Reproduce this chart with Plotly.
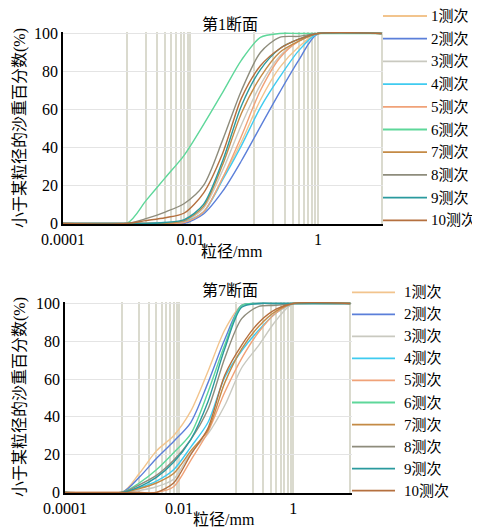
import plotly.graph_objects as go

# particle sizes (mm)
sizes = [0.0001, 0.001, 0.002, 0.004, 0.008, 0.016, 0.032, 0.063, 0.125, 0.25, 0.5, 1, 10]

run_names = ["1测次", "2测次", "3测次", "4测次", "5测次", "6测次", "7测次", "8测次", "9测次", "10测次"]
run_colors = ["#F2C48D", "#5B7FD9", "#C9C9C0", "#3FCBF0", "#F0A278",
              "#5ED79A", "#C48A45", "#8E8C7C", "#2A9A9E", "#B5703F"]

# Section 1: percent finer (%)
s1_r1 = [0, 0, 0, 0, 0.5, 6, 24, 43, 65, 82, 93, 100, 100]
s1_r2 = [0, 0, 0, 0, 0, 5, 17, 33, 51, 69, 86, 100, 100]
s1_r3 = [0, 0, 0, 0, 1, 8, 28, 52, 73, 88, 96, 100, 100]
s1_r4 = [0, 0, 0, 0.5, 1, 6, 23, 41, 61, 77, 91, 100, 100]
s1_r5 = [0, 0, 0, 0, 0.5, 6, 24, 46, 70, 87, 96, 100, 100]
s1_r6 = [0, 0, 12, 24, 36, 52, 69, 86, 98, 100, 100, 100, 100]
s1_r7 = [0, 0, 0, 0, 1.5, 9, 31, 58, 77, 90, 96, 100, 100]
s1_r8 = [0, 0, 2.5, 6, 10.5, 20, 44, 70, 90, 98, 98.5, 100, 100]
s1_r9 = [0, 0, 0, 0.5, 2, 10, 33, 62, 81, 92, 97, 100, 100]
s1_r10 = [0, 0, 1.5, 3, 5.5, 16, 37, 66, 83, 92, 97, 100, 100]

# Section 7: percent finer (%)
s7_r1 = [0, 0, 10, 22, 30, 43, 64, 86, 99, 100, 100, 100, 100]
s7_r2 = [0, 0, 8, 18, 27, 37, 58, 81, 99, 100, 100, 100, 100]
s7_r3 = [0, 0, 1, 3, 7, 21, 31, 46, 66, 78, 91, 100, 100]
s7_r4 = [0, 0, 2.5, 6, 12, 24, 37, 61, 75, 86, 95, 100, 100]
s7_r5 = [0, 0, 0, 0, 3, 17, 32, 53, 71, 85, 95, 100, 100]
s7_r6 = [0, 0, 5, 12, 21, 31, 53, 78, 99, 100, 100, 100, 100]
s7_r7 = [0, 0, 2, 5, 10, 22, 33, 58, 76, 88, 96, 100, 100]
s7_r8 = [0, 0, 4, 9, 17, 28, 44, 71, 92, 98.5, 99, 100, 100]
s7_r9 = [0, 0, 3, 8, 16, 28, 48, 76, 98, 100, 100, 100, 100]
s7_r10 = [0, 0, 0, 0, 5, 20, 34, 62, 78, 90, 97, 100, 100]

sec1 = [s1_r1, s1_r2, s1_r3, s1_r4, s1_r5, s1_r6, s1_r7, s1_r8, s1_r9, s1_r10]
sec7 = [s7_r1, s7_r2, s7_r3, s7_r4, s7_r5, s7_r6, s7_r7, s7_r8, s7_r9, s7_r10]

x_tickvals = [0.0001, 0.01, 1]
x_ticktext = ["0.0001", "0.01", "1"]
grid_sizes = [k * 0.001 for k in range(1, 11)] + [k * 0.1 for k in range(1, 11)] + [10]

FONT = "'Liberation Serif', 'Noto Sans CJK SC', serif"
# page body adds an 8px offset; the figure is sized to fit the 480x528 window
OFF = 8
W, H = 480 - OFF, 528 - OFF


def px_x(p):
    return (p - OFF) / W


def px_y(p):
    return 1 - (p - OFF) / H


fig = go.Figure()
for name, color, vals in zip(run_names, run_colors, sec1):
    fig.add_trace(go.Scatter(x=sizes, y=vals, name=name, mode="lines", showlegend=False,
                             line=dict(color=color, width=1.4, shape="spline", smoothing=0.8),
                             xaxis="x", yaxis="y"))
for name, color, vals in zip(run_names, run_colors, sec7):
    fig.add_trace(go.Scatter(x=sizes, y=vals, name=name, mode="lines", showlegend=False,
                             line=dict(color=color, width=1.4, shape="spline", smoothing=0.8),
                             xaxis="x2", yaxis="y2"))


def xax(domain, rng, anchor):
    return dict(domain=domain, type="log", range=rng, anchor=anchor,
                tickvals=x_tickvals, ticktext=x_ticktext, showgrid=False,
                ticks="", showline=True, linecolor="black", linewidth=2,
                tickfont=dict(family=FONT, size=16, color="black"),
                ticklabelstandoff=0,
                minor=dict(tickmode="array", tickvals=grid_sizes, showgrid=True,
                           gridcolor="#dadace", gridwidth=1.5, ticks=""),
                layer="above traces", automargin=False)


def yax(domain, anchor):
    return dict(domain=domain, range=[-0.3, 100.8], anchor=anchor,
                tickvals=[0, 20, 40, 60, 80, 100], showgrid=True,
                gridcolor="#e4e4e4", gridwidth=1, zeroline=False,
                ticks="", showline=True, linecolor="black", linewidth=1.5,
                tickfont=dict(family=FONT, size=16, color="black"),
                ticklabelstandoff=0, automargin=False)


fig.update_layout(
    width=W, height=H, margin=dict(l=0, r=0, t=0, b=0, autoexpand=False),
    paper_bgcolor="white", plot_bgcolor="white", showlegend=False,
    font=dict(family=FONT, color="black"),
    xaxis=xax([px_x(63), px_x(383)], [-4, 1.02], "y"),
    yaxis=yax([px_y(224), px_y(32)], "x"),
    xaxis2=xax([px_x(65), px_x(352)], [-4, 1.03], "y2"),
    yaxis2=yax([px_y(493), px_y(302)], "x2"),
)

ann_font = dict(family=FONT, size=16, color="black")
annotations = []


def ann(text, x, y, **kw):
    d = dict(text=text, x=px_x(x), y=px_y(y), xref="paper", yref="paper", showarrow=False,
             font=ann_font, xanchor="center", yanchor="middle")
    d.update(kw)
    annotations.append(d)


ann("第1断面", 230, 24)
ann("第7断面", 230, 290)
ann("粒径/mm", 232, 251)
ann("粒径/mm", 224, 519)
ann("小于某粒径的沙重百分数(%)", 20, 128, textangle=-90)
ann("小于某粒径的沙重百分数(%)", 20, 397, textangle=-90)

# legends drawn as line samples + labels
shapes = []
leg_font = dict(family=FONT, size=15, color="black")
for i, (name, color) in enumerate(zip(run_names, run_colors)):
    y1 = 16 + 22.7 * i
    shapes.append(dict(type="line", xref="paper", yref="paper",
                       x0=px_x(383), x1=px_x(427), y0=px_y(y1), y1=px_y(y1),
                       line=dict(color=color, width=1.8)))
    ann(name, 429, y1, xanchor="left", font=leg_font)
    y2 = 292.3 + 22.04 * i
    shapes.append(dict(type="line", xref="paper", yref="paper",
                       x0=px_x(352), x1=px_x(395), y0=px_y(y2), y1=px_y(y2),
                       line=dict(color=color, width=1.8)))
    ann(name, 402, y2, xanchor="left", font=leg_font)

fig.update_layout(annotations=annotations, shapes=shapes)

fig.write_html("out.html")
